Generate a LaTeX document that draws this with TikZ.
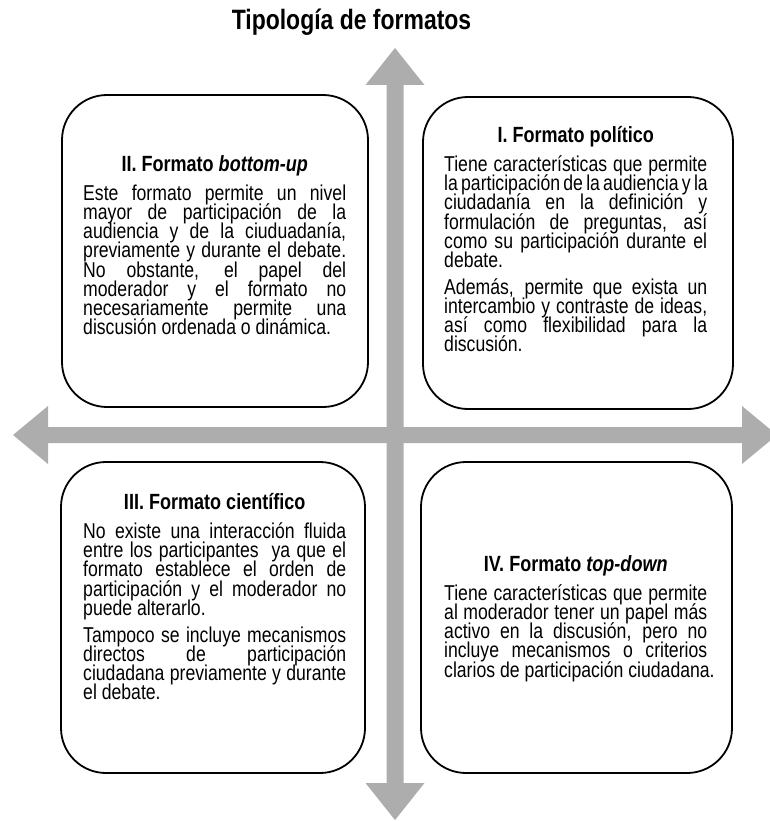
\documentclass[tikz,border=0pt]{standalone}
\usepackage{fontspec}
\setmainfont{Liberation Sans}[FakeStretch=0.82]
\newlength\colw
\setlength\colw{263pt}
\newcommand\bodyset{\fontsize{21.5}{19.2}\selectfont\lineskiplimit=-100pt\relax\parindent=0pt\relax\spaceskip=0pt\relax\xspaceskip=0pt\relax}
\newcommand\jl[1]{\hbox to \colw{\spaceskip=0pt\relax\xspaceskip=0pt\relax #1}}
\newcommand\lastln[1]{\hbox{\spaceskip=0pt\relax\xspaceskip=0pt\relax #1}}
\newcommand\hd[1]{\hbox to \colw{\hfil\fontsize{22}{19.2}\selectfont\bfseries #1\hfil}\vskip 10pt}
\newcommand\pgap{\vskip 7.5pt}
\tikzset{
  axis/.style={fill=black!32, draw=none},
  fbox/.style={draw=black, line width=1.8pt, rounded corners=45pt, rectangle, inner sep=0pt},
  txt/.style={anchor=north west, inner sep=0pt, text width=263pt},
}
\begin{document}
\begin{tikzpicture}[x=1pt,y=-1pt]
\useasboundingbox (0,0) rectangle (769,821);
% axes
\coordinate (L) at (13,435);
\coordinate (R) at (777,435);
\coordinate (T) at (395,48);
\coordinate (B) at (395,820);
\fill[axis] (L) -- ++(35,-29) -- ++(0,21) -- ++(694,0) -- ++(0,-21) -- (R)
  -- ++(-35,29) -- ++(0,-21) -- ++(-694,0) -- ++(0,21) -- cycle;
\fill[axis] (T) -- ++(-29.5,37) -- ++(21,0) -- ++(0,698) -- ++(-21,0) -- (B)
  -- ++(29.5,-37) -- ++(-21,0) -- ++(0,-698) -- ++(21,0) -- cycle;
% title
\node[font=\fontsize{28}{30}\selectfont\bfseries] (title) at (351.5,22) {Tipología de formatos};
% boxes
\node[fbox, minimum width=310pt, minimum height=312pt] (b1) at (578,253) {};
\node[fbox, minimum width=306pt, minimum height=312pt] (b2) at (215,251) {};
\node[fbox, minimum width=304pt, minimum height=311pt] (b3) at (213,617.5) {};
\node[fbox, minimum width=311pt, minimum height=311pt] (b4) at (576.5,617.5) {};
% texts
\node[txt] (t1) at (444,126) {\bodyset
\hd{I. Formato político}
\jl{Tiene características que permite}
\jl{la participación de la audiencia y la}
\jl{ciudadanía en la definición y}
\jl{formulación de preguntas, así}
\jl{como su participación durante el}
\lastln{debate.}
\pgap
\jl{Además, permite que exista un}
\jl{intercambio y contraste de ideas,}
\jl{así como flexibilidad para la}
\lastln{discusión.}};
\node[txt] (t2) at (83,155) {\bodyset
\hd{II. Formato \textit{bottom-up}}
\jl{Este formato permite un nivel}
\jl{mayor de participación de la}
\jl{audiencia y de la ciuduadanía,}
\jl{previamente y durante el debate.}
\jl{No obstante, el papel del}
\jl{moderador y el formato no}
\jl{necesariamente permite una}
\lastln{discusión ordenada o dinámica.}};
\node[txt] (t3) at (83,493) {\bodyset
\hd{III. Formato científico}
\jl{No existe una interacción fluida}
\jl{entre los participantes\ \ ya que el}
\jl{formato establece el orden de}
\jl{participación y el moderador no}
\lastln{puede alterarlo.}
\pgap
\jl{Tampoco se incluye mecanismos}
\jl{directos de participación}
\jl{ciudadana previamente y durante}
\lastln{el debate.}};
\node[txt] (t4) at (444,555) {\bodyset
\hd{IV. Formato \textit{top-down}}
\jl{Tiene características que permite}
\jl{al moderador tener un papel más}
\jl{activo en la discusión, pero no}
\jl{incluye mecanismos o criterios}
\lastln{clarios de participación ciudadana.}};
\end{tikzpicture}
\end{document}
